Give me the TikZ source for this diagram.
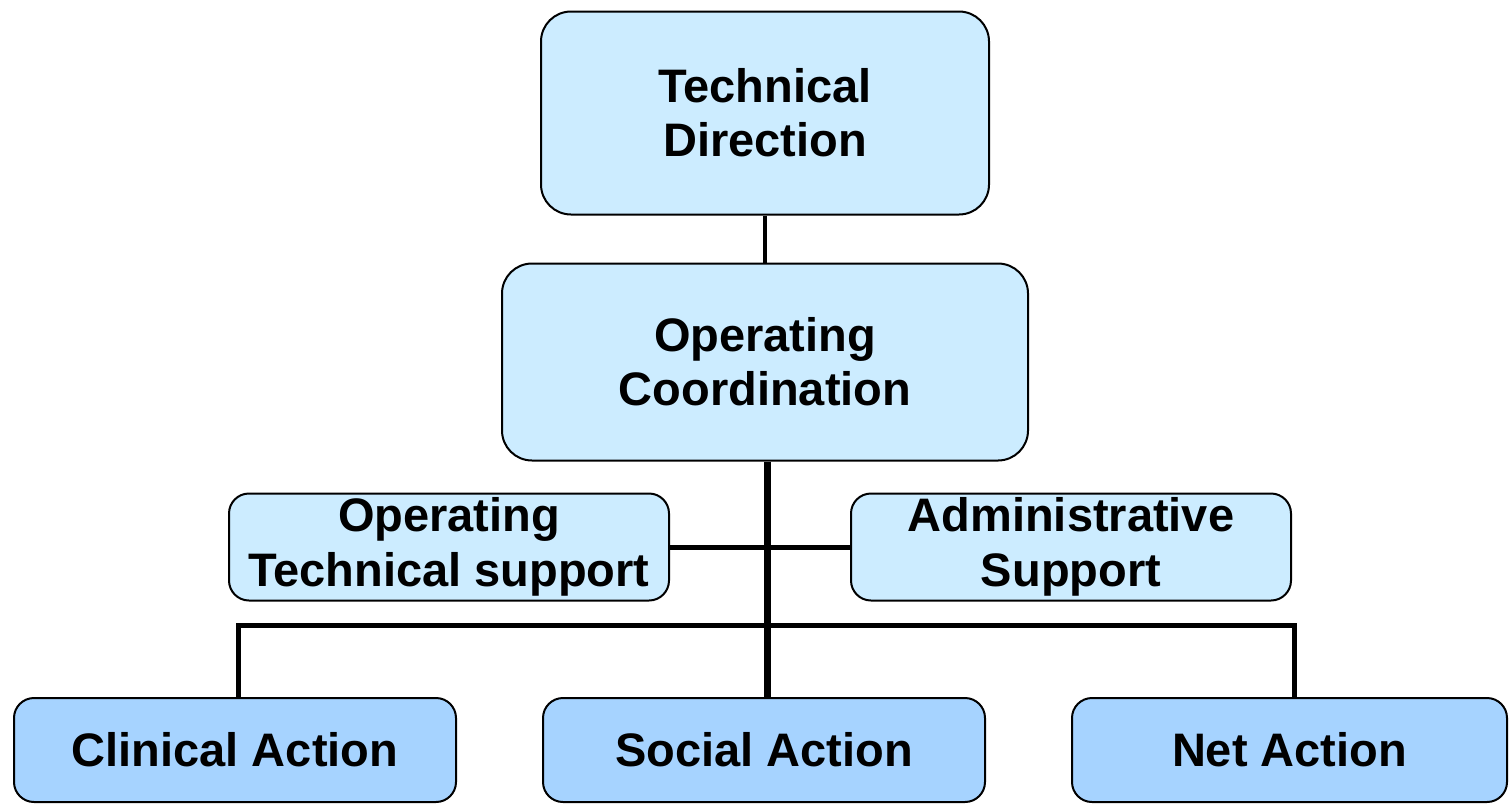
\documentclass[tikz,border=0pt]{standalone}
\usepackage{fontspec}
\setmainfont{Liberation Sans}
\usepackage{tikz}
\usetikzlibrary{positioning}
\definecolor{paleblue}{HTML}{CCECFF}
\definecolor{midblue}{HTML}{A6D3FF}

\begin{document}
\begin{tikzpicture}[x=0.5pt, y=-0.5pt,
  box/.style={draw, line width=1pt, rounded corners=15pt, fill=paleblue, align=center,
    font=\bfseries\fontsize{23.5}{27}\selectfont, inner sep=0pt},
  smallbox/.style={box, rounded corners=10pt, font=\bfseries\fontsize{23.5}{27.5}\selectfont},
  actionbox/.style={box, rounded corners=10pt, fill=midblue, minimum height=52pt}]
  \useasboundingbox (0,0) rectangle (1509,804);

  \node[box, minimum width=224pt, minimum height=101.5pt]      at (765,113)  (direction) {Technical\\Direction};
  \node[box, minimum width=263pt, minimum height=98.5pt]       at (765,362)  (coord)     {Operating\\Coordination};
  \node[smallbox, minimum width=220pt, minimum height=53.5pt]  at (449,547)  (tech support)  {Operating\\Technical support};
  \node[smallbox, minimum width=220pt, minimum height=53.5pt]  at (1071,547) (admin support) {Administrative\\Support};

  \node[actionbox, minimum width=221pt]   at (235,750)    (clinical) {Clinical Action};
  \node[actionbox, minimum width=221pt]   at (764,750)    (social)   {Social Action};
  \node[actionbox, minimum width=217.5pt] at (1289.5,750) (net)      {Net Action};

  \coordinate (bar) at (767,625);

  \draw[line width=2pt]   (direction) -- (coord);
  \draw[line width=2.5pt] (tech support) -- (admin support);
  \draw[line width=2.5pt] ([xshift=1.5pt]clinical.north) |- (bar) -| ([xshift=2.5pt]net.north);
  \draw[line width=3.5pt] ([xshift=1pt]coord.south) -- ([xshift=1.5pt]social.north);
\end{tikzpicture}
\end{document}
